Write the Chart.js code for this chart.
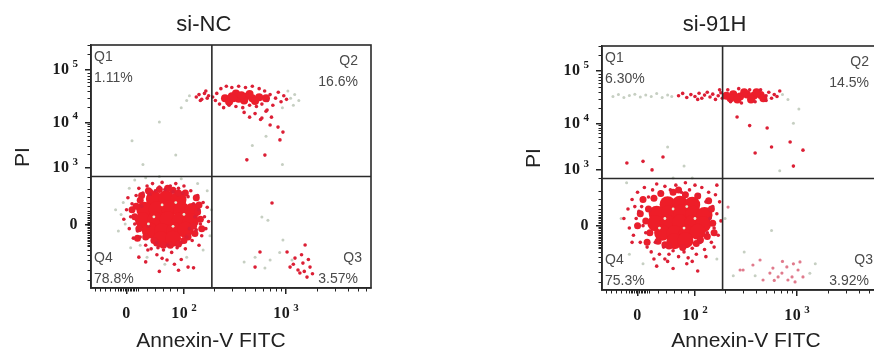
<!DOCTYPE html>
<html>
<head>
<meta charset="utf-8">
<script src="https://cdn.jsdelivr.net/npm/chart.js@4"></script>
<style>
html, body { margin: 0; padding: 0; width: 874px; height: 351px; overflow: hidden; background: #fff; }
canvas { position: absolute; top: 0; }
#nc { left: 0; }
#h91 { left: 437px; }
</style>
</head>
<body>
<canvas id="nc" width="408" height="351"></canvas>
<canvas id="h91" width="556" height="351"></canvas>
<script>
// axis channel units (0-1024), tick positions
const xTickPos = [130, 340, 713];
const xTickText = ['0', '10', '10'];
const xTickExp = ['', '2', '3'];
const yTickPos = [268, 505, 698, 919];
const yTickText = ['0', '10', '10', '10'];
const yTickExp = ['', '3', '4', '5'];
const xMinor = [15, 33, 51, 69, 88, 99, 105, 111, 117, 123, 129, 135, 141, 147, 153, 159, 165, 171,
  205, 234, 263, 289, 315, 449, 516, 563, 599, 629, 655, 676, 696, 826, 892, 939, 975, 1005];
const yMinor = [34, 76, 118, 140, 160, 175, 182, 189, 196, 203, 210, 217, 224, 231, 238, 245, 252, 259,
  266, 273, 280, 287, 294, 301, 308, 315, 326, 340, 358, 383, 417, 468,
  564, 598, 622, 641, 657, 670, 681, 692, 764, 802, 829, 850, 867, 882, 894, 905, 985, 1022];

const quadNames = ['Q1', 'Q2', 'Q3', 'Q4'];
const ncPct = ['1.11%', '16.6%', '3.57%', '78.8%'];
const h91Pct = ['6.30%', '14.5%', '3.92%', '75.3%'];

// si-NC events [Annexin-V, PI] in channels
const ncCore = [[230,375],[275,378],[320,372],[195,330],[240,332],[285,335],[330,330],[370,325],[190,285],[235,288],
  [280,290],[325,287],[365,282],[215,242],[260,240],[305,242],[345,245],[255,205],[300,208]];
const ncMid = [[160,300],[165,345],[175,250],[185,390],[200,215],[210,410],[240,190],[250,415],[290,180],[300,412],
  [340,200],[345,400],[380,230],[395,350],[400,290],[385,380],[170,210],[150,330],[405,250],[280,420],[230,200],[355,215],
  [180,370],[375,260],[390,320],[320,400],[215,405],[265,180],[320,185]];
const ncQ4Dots = [[130,330],[145,300],[150,355],[160,270],[165,390],[170,240],[175,420],[180,215],[185,345],[190,400],
  [200,180],[205,430],[210,260],[215,395],[220,165],[225,440],[235,410],[240,190],[245,170],[250,425],[260,445],[265,160],
  [270,415],[280,180],[290,430],[295,150],[300,405],[310,440],[315,170],[320,420],[330,190],[335,400],[340,430],[345,165],
  [350,215],[355,385],[360,250],[365,410],[370,200],[375,355],[380,300],[385,245],[390,390],[395,330],[400,270],[405,220],
  [410,360],[415,300],[420,250],[425,340],[140,250],[155,210],[120,290],[135,380],[395,180],[430,280],[208,160],[278,118],
  [355,88],[241,140],[175,130],[200,110],[260,125],[305,100],[330,120],[375,85],[250,70],[320,75]];
const ncQ2Core = [[490,800],[515,808],[540,798],[565,806],[590,800],[615,804],[505,785],[530,820],[560,790],[580,818],
  [520,800],[550,812],[600,788],[640,800]];
const ncQ2Dots = [[445,805],[455,790],[460,820],[470,775],[475,840],[485,760],[495,850],[505,770],[515,845],[530,765],
  [540,850],[555,760],[565,845],[580,770],[590,850],[605,765],[615,840],[625,775],[635,830],[645,790],[655,815],[665,770],
  [675,800],[685,825],[695,785],[705,810],[715,795],[560,740],[600,735],[640,745],[660,720],[620,710],[580,720],[625,716],
  [655,687],[691,624],[636,560],[570,540],[684,678],[702,657],[644,750],
  [385,805],[395,815],[405,795],[415,820],[425,800],[430,810],[400,790],[420,830]];
const ncQ3Dots = [[618,152],[600,88],[717,152],[746,126],[757,76],[775,105],[790,46],[801,88],[783,181],[764,63],
  [728,88],[662,358],[780,70],[795,120],[770,140],[810,60],[740,100]];
const ncFaint = [[110,310],[125,270],[118,360],[140,420],[160,455],[200,465],[250,470],[330,460],[390,440],[425,410],
  [440,330],[435,220],[410,160],[350,130],[270,100],[180,180],[100,240],[90,330],[145,170],[205,130],[150,620],[250,700],
  [310,560],[190,520],[330,760],[350,790],[360,810],[730,800],[745,815],[760,790],[740,770],[700,760],[720,830],[636,84],
  [655,118],[625,299],[647,286],[702,202],[690,150],[600,130],[560,110],[735,118],[590,600],[640,640],[700,520],
  [230,300],[300,260],[260,350],[340,310],[210,270],[310,360]];

// si-91H events
const h91Core = [[240,360],[285,362],[330,358],[200,320],[245,322],[290,325],[335,320],[375,315],[195,280],[240,282],
  [285,284],[330,280],[370,276],[220,240],[265,238],[310,240],[350,244],[265,205],[305,208]];
const h91Mid = [[160,290],[170,340],[175,240],[190,385],[205,205],[215,405],[245,185],[260,410],[295,178],[305,400],
  [345,195],[350,395],[385,225],[400,340],[405,280],[390,375],[165,200],[140,320],[410,240],[280,420],[230,190],[360,210],
  [130,270],[150,380]];
const h91Q4Dots = [[80,300],[95,340],[100,260],[110,380],[115,230],[125,300],[130,410],[140,200],[145,350],[150,270],
  [155,430],[165,180],[170,390],[180,160],[185,420],[195,200],[200,445],[210,150],[215,410],[225,180],[230,435],[245,150],
  [250,420],[260,165],[270,440],[280,140],[290,410],[300,160],[305,450],[315,135],[320,420],[330,175],[340,440],[345,150],
  [355,400],[360,200],[365,430],[375,170],[380,370],[385,240],[390,410],[395,300],[400,200],[405,350],[410,260],[415,400],
  [420,320],[425,230],[430,370],[435,290],[160,240],[135,330],[120,350],[410,180],[190,130],[240,120],[330,120],[380,140],
  [420,440],[110,200],[200,100],[260,90],[310,110],[350,80],[230,130]];
const h91BandCore = [[455,815],[480,822],[505,812],[530,820],[555,815],[580,818],[470,805],[520,830],[545,800],[495,800],
  [565,830],[590,805]];
const h91BandDots = [[280,815],[295,825],[310,808],[325,820],[340,812],[355,826],[365,805],[375,818],[385,830],[395,810],
  [405,822],[415,800],[425,815],[435,828],[440,805],[600,815],[610,830],[620,805],[630,820],[640,812],[650,835],[460,840],
  [500,845],[540,840],[580,840],[470,790],[510,785],[560,790],[600,795],[430,840],[350,800],
  [494,726],[604,680],[688,621],[735,587],[560,575],[223,558],[91,533],[183,504],[150,540],[540,690],[620,600],[700,520]];
const h91Q3Dots = [[516,84],[552,105],[578,126],[625,92],[658,71],[676,97],[695,55],[717,84],[724,118],[706,34],
  [735,55],[680,42],[644,55],[614,71],[589,42],[505,84],[461,348],[660,120],[700,110],[630,40]];
const h91Faint = [[40,812],[60,820],[80,808],[100,816],[120,822],[140,810],[160,818],[180,812],[200,825],[220,808],
  [240,818],[255,812],[660,820],[680,800],[90,450],[70,300],[100,150],[150,110],[260,470],[330,470],[420,130],[450,300],
  [620,250],[520,160],[560,60],[760,70],[780,110],[480,60],[300,520],[240,600],[650,500],[700,700],[720,760],
  [230,300],[300,260],[260,340],[340,300],[210,260],[310,350]];

const pts = arr => arr.map(([x, y]) => ({ x, y }));

const baseFont = 'bold 16px "Liberation Serif"';
const expFont = 'bold 11px "Liberation Serif"';

// "10" with a raised exponent, anchored by its right edge or centre
function drawPow(ctx, base, exp, px, py, align) {
  ctx.letterSpacing = '0.5px';
  ctx.font = baseFont;
  const bw = ctx.measureText(base).width;
  ctx.letterSpacing = '0px';
  ctx.font = expFont;
  const ew = exp ? ctx.measureText(exp).width + 3 : 0;
  const left = align === 'right' ? px - bw - ew : px - (bw + ew) / 2;
  ctx.textAlign = 'left';
  ctx.letterSpacing = '0.5px';
  ctx.font = baseFont;
  ctx.fillText(base, left, py);
  ctx.letterSpacing = '0px';
  if (exp) {
    ctx.font = expFont;
    ctx.fillText(exp, left + bw + 3, py - 6);
  }
}

const flowPlugin = {
  id: 'flow',
  afterDatasetsDraw(chart, args, o) {
    const { ctx, chartArea: a, scales: { x, y } } = chart;
    ctx.save();
    // minor ticks
    ctx.strokeStyle = '#222';
    ctx.lineWidth = 1;
    ctx.beginPath();
    xMinor.forEach(v => {
      const p = Math.round(x.getPixelForValue(v)) + 0.5;
      ctx.moveTo(p, a.bottom); ctx.lineTo(p, a.bottom + 3.5);
    });
    yMinor.forEach(v => {
      const p = Math.round(y.getPixelForValue(v)) + 0.5;
      ctx.moveTo(a.left - 3.5, p); ctx.lineTo(a.left, p);
    });
    ctx.stroke();
    // tick labels
    ctx.fillStyle = '#1a1a1a';
    ctx.textBaseline = 'middle';
    xTickPos.forEach((v, i) => drawPow(ctx, xTickText[i], xTickExp[i], x.getPixelForValue(v), a.bottom + 26, 'center'));
    yTickPos.forEach((v, i) => drawPow(ctx, yTickText[i], yTickExp[i], a.left - 13, y.getPixelForValue(v), 'right'));
    // quadrant gates and frame
    const gx = x.getPixelForValue(o.gateX), gy = y.getPixelForValue(o.gateY);
    ctx.strokeStyle = '#2a2a2a';
    ctx.lineWidth = 1.6;
    ctx.beginPath();
    ctx.moveTo(gx, a.top); ctx.lineTo(gx, a.bottom);
    ctx.moveTo(a.left, gy); ctx.lineTo(a.right, gy);
    ctx.stroke();
    ctx.strokeRect(a.left, a.top, a.right - a.left, a.bottom - a.top);
    // titles
    ctx.fillStyle = '#222';
    ctx.textAlign = 'center';
    ctx.font = '22px "Liberation Sans"';
    ctx.fillText(o.title, gx - 8, 25);
    ctx.font = '21px "Liberation Sans"';
    ctx.fillText('Annexin-V FITC', a.left + o.xTitleDX, 341);
    ctx.save();
    ctx.translate(a.left - 68, a.top + 112);
    ctx.rotate(-Math.PI / 2);
    ctx.fillText('PI', 0, 0);
    ctx.restore();
    // quadrant labels
    ctx.fillStyle = '#4a4a4a';
    ctx.font = '14px "Liberation Sans"';
    ctx.textAlign = 'left';
    ctx.fillText(quadNames[0], a.left + 3, a.top + 12);
    ctx.fillText(o.pct[0], a.left + 3, a.top + 33);
    ctx.fillText(quadNames[3], a.left + 3, a.bottom - 30);
    ctx.fillText(o.pct[3], a.left + 3, a.bottom - 9);
    ctx.textAlign = 'right';
    ctx.fillText(quadNames[1], a.right - 13, a.top + 16);
    ctx.fillText(o.pct[1], a.right - 13, a.top + 37);
    ctx.fillText(quadNames[2], a.right - 9, a.bottom - 30);
    ctx.fillText(o.pct[2], a.right - 13, a.bottom - 9);
    ctx.restore();
  }
};

function makeChart(id, sets, o) {
  return new Chart(document.getElementById(id), {
    type: 'scatter',
    data: {
      datasets: [
        { data: pts(sets.faint), pointRadius: 1.4, pointBackgroundColor: '#e9ecd8', pointBorderWidth: 0 },
        { data: pts(sets.dots), pointRadius: 1.8, pointBackgroundColor: '#dc1f35', pointBorderWidth: 0 },
        { data: pts(sets.pink), pointRadius: 1.6, pointBackgroundColor: '#e07a8c', pointBorderWidth: 0 },
        { data: pts(sets.mid), pointRadius: 3.5, pointBackgroundColor: '#ea1e2c', pointBorderWidth: 0 },
        { data: pts(sets.band), pointRadius: 4, pointBackgroundColor: '#ec1e2b', pointBorderWidth: 0 },
        { data: pts(sets.core), pointRadius: 8, pointBackgroundColor: '#ee1d28', pointBorderWidth: 0 },
        { data: pts(sets.grey), pointRadius: 1.5, pointBackgroundColor: '#c6cfc2', pointBorderWidth: 0 }
      ]
    },
    options: {
      responsive: false,
      animation: false,
      events: [],
      layout: { padding: { left: 0, top: o.top, right: o.padR, bottom: 0 } },
      plugins: {
        legend: { display: false },
        tooltip: { enabled: false },
        flow: o
      },
      scales: {
        x: {
          type: 'linear', min: 0, max: 1024,
          afterBuildTicks: s => { s.ticks = xTickPos.map(v => ({ value: v })); },
          afterFit: s => { s.height = 351 - o.bottom; },
          ticks: { display: false },
          grid: { drawOnChartArea: false, drawTicks: true, tickLength: 6, color: '#222', lineWidth: 1.5 },
          border: { display: true, color: '#222', width: 1.5 }
        },
        y: {
          type: 'linear', min: 0, max: 1024,
          afterBuildTicks: s => { s.ticks = yTickPos.map(v => ({ value: v })); },
          afterFit: s => { s.width = o.left; },
          ticks: { display: false },
          grid: { drawOnChartArea: false, drawTicks: true, tickLength: 6, color: '#222', lineWidth: 1.5 },
          border: { display: true, color: '#222', width: 1.5 }
        }
      }
    },
    plugins: [flowPlugin]
  });
}

makeChart('nc', {
  core: ncCore, mid: ncMid, band: ncQ2Core,
  dots: ncQ4Dots.concat(ncQ2Dots, ncQ3Dots), pink: [],
  faint: ncFaint.slice(-6), grey: ncFaint.slice(0, -6)
}, { title: 'si-NC', pct: ncPct, gateX: 442, gateY: 470, left: 91, top: 45, bottom: 288, padR: 37, xTitleDX: 120 });

makeChart('h91', {
  core: h91Core, mid: h91Mid, band: h91BandCore,
  dots: h91Q4Dots.concat(h91BandDots), pink: h91Q3Dots,
  faint: h91Faint.slice(-6), grey: h91Faint.slice(0, -6)
}, { title: 'si-91H', pct: h91Pct, gateX: 441, gateY: 468, left: 165, top: 46, bottom: 290, padR: 111, xTitleDX: 144 });
</script>
</body>
</html>
